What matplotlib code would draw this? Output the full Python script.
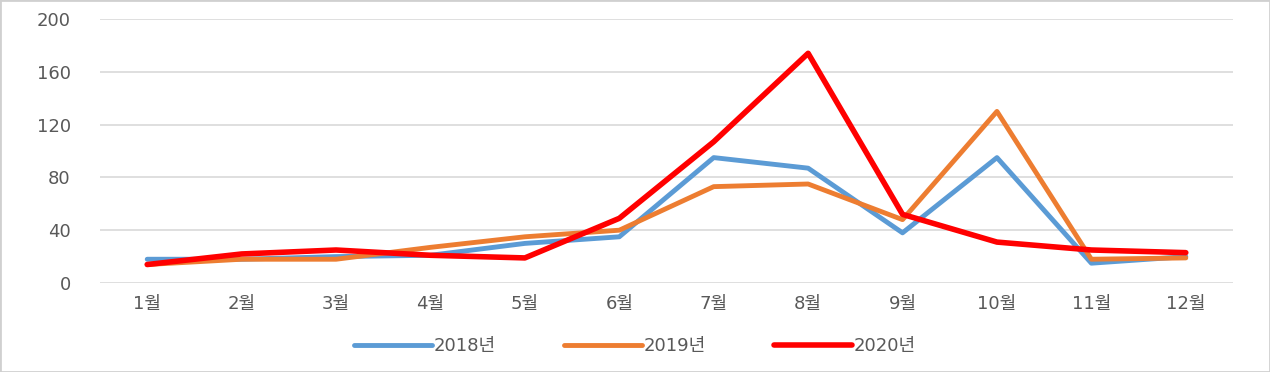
import matplotlib.pyplot as plt
from matplotlib.patches import Rectangle

plt.rcParams['font.family'] = ['DejaVu Sans', 'Noto Sans CJK KR']

months = ['1월', '2월', '3월', '4월', '5월', '6월', '7월', '8월', '9월', '10월', '11월', '12월']
y2018 = [18, 18, 20, 21, 30, 35, 95, 87, 38, 95, 15, 20]
y2019 = [14, 18, 18, 27, 35, 40, 73, 75, 48, 130, 18, 19]
y2020 = [14, 22, 25, 21, 19, 49, 107, 174, 52, 31, 25, 23]
yticks = [0, 40, 80, 120, 160, 200]

fig = plt.figure(figsize=(12.7, 3.72), dpi=100)
ax = fig.add_axes([100 / 1270, 1 - 283 / 372, 1133 / 1270, 264 / 372])

x = range(len(months))
ax.plot(x, y2018, color='#5B9BD5', lw=3.5, label='2018년', solid_capstyle='round')
ax.plot(x, y2019, color='#ED7D31', lw=3.5, label='2019년', solid_capstyle='round')
ax.plot(x, y2020, color='#FF0000', lw=4, label='2020년', solid_capstyle='round')

ax.set_xlim(-0.5, 11.5)
ax.set_ylim(0, 200)
ax.set_yticks(yticks)
ax.set_xticks(list(x))
ax.set_xticklabels(months)
ax.grid(axis='y', color='#D9D9D9', lw=1.2)
ax.set_axisbelow(True)
for s in ax.spines.values():
    s.set_visible(False)
ax.tick_params(length=0, colors='#595959', labelsize=13)
ax.tick_params(axis='y', pad=21)
ax.tick_params(axis='x', pad=9)

leg = fig.legend(loc='center', bbox_to_anchor=(0.5, 1 - 346 / 372), ncol=3,
                 frameon=False, fontsize=13, handlelength=4.3, columnspacing=3.8,
                 handletextpad=0.1)
for t in leg.get_texts():
    t.set_color('#595959')

fig.patches.append(Rectangle((0, 0), 1, 1, transform=fig.transFigure,
                             fill=False, edgecolor='#D0D0D0', lw=2))

fig.savefig('out.png', dpi=100)
